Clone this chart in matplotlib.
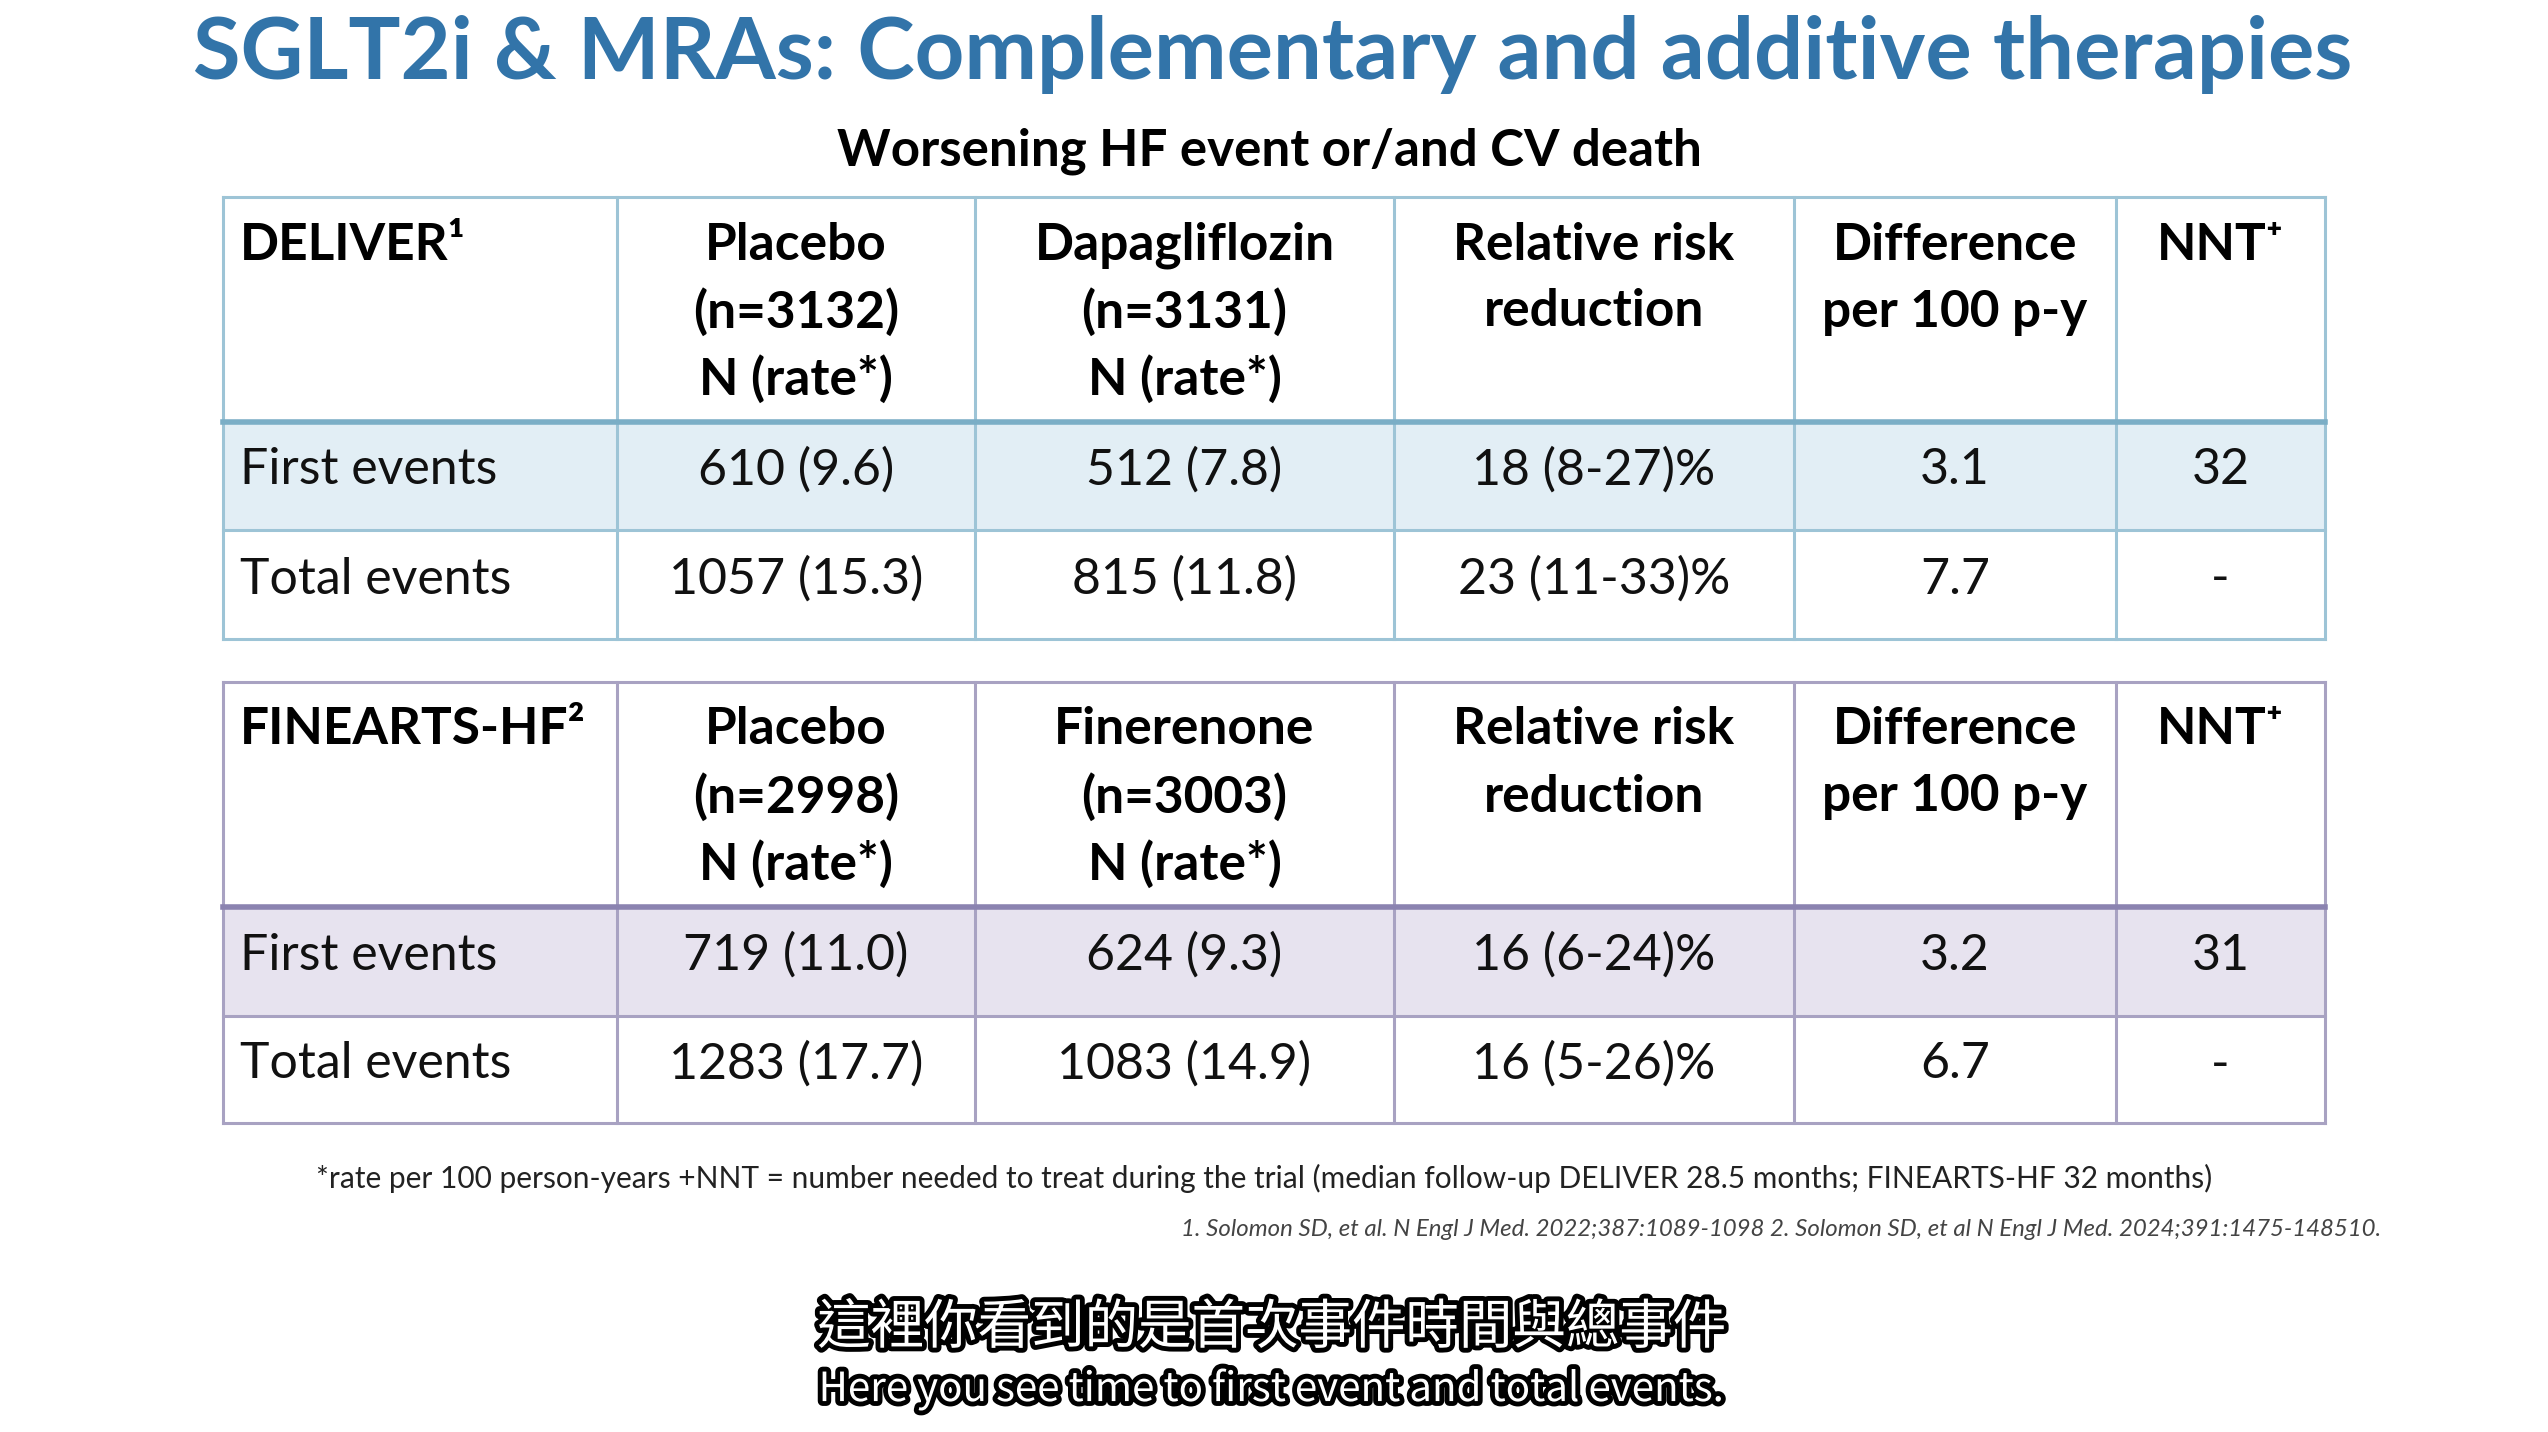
import matplotlib
matplotlib.use("Agg")
from matplotlib import pyplot as plt
from matplotlib import patheffects
from matplotlib.patches import Rectangle

plt.rcParams["font.family"] = ["Lato", "DejaVu Sans"]

title = "SGLT2i & MRAs: Complementary and additive therapies"
subtitle = "Worsening HF event or/and CV death"

trials = ["DELIVER\u00b9", "FINEARTS-HF\u00b2"]
col_heads = [
    ["Placebo\n(n=3132)\nN (rate*)", "Dapagliflozin\n(n=3131)\nN (rate*)",
     "Relative risk\nreduction", "Difference\nper 100 p-y", "NNT\u207a"],
    ["Placebo\n(n=2998)\nN (rate*)", "Finerenone\n(n=3003)\nN (rate*)",
     "Relative risk\nreduction", "Difference\nper 100 p-y", "NNT\u207a"],
]
row_labels = ["First events", "Total events"]

deliver_placebo = ["610 (9.6)", "1057 (15.3)"]
deliver_drug = ["512 (7.8)", "815 (11.8)"]
deliver_rrr = ["18 (8-27)%", "23 (11-33)%"]
deliver_diff = ["3.1", "7.7"]
deliver_nnt = ["32", "-"]

finearts_placebo = ["719 (11.0)", "1283 (17.7)"]
finearts_drug = ["624 (9.3)", "1083 (14.9)"]
finearts_rrr = ["16 (6-24)%", "16 (5-26)%"]
finearts_diff = ["3.2", "6.7"]
finearts_nnt = ["31", "-"]

footnote = ("*rate per 100 person-years +NNT = number needed to treat during the trial "
            "(median follow-up DELIVER 28.5 months; FINEARTS-HF 32 months)")
refs = ("1. Solomon SD, et al. N Engl J Med. 2022;387:1089-1098 "
        "2. Solomon SD, et al N Engl J Med. 2024;391:1475-148510.")
caption_zh = "這裡你看到的是首次事件時間與總事件"
caption_en = "Here you see time to first event and total events."

# layout in pixels
W, H = 2548, 1432
col_x = [223, 617, 975, 1394, 1794, 2116, 2325]
tables = [
    dict(top=197, head=422, mid=530, bottom=639,
         line="#9DC4D6", sep="#7BAEC6", fill="#E2EEF5"),
    dict(top=682, head=907, mid=1016, bottom=1123,
         line="#A8A2C2", sep="#8B83B0", fill="#E7E3EF"),
]
body = [
    [deliver_placebo, deliver_drug, deliver_rrr, deliver_diff, deliver_nnt],
    [finearts_placebo, finearts_drug, finearts_rrr, finearts_diff, finearts_nnt],
]

fig = plt.figure(figsize=(W / 100, H / 100), dpi=100)
ax = fig.add_axes([0, 0, 1, 1])
ax.set_xlim(0, W)
ax.set_ylim(H, 0)
ax.axis("off")

ax.text(1273, 54, title, fontsize=62.5, fontweight="bold", color="#3274A9",
        ha="center", va="center")
ax.text(1269, 151, subtitle, fontsize=36.8, fontweight="bold", color="black",
        ha="center", va="center")

fs_head = 37
fs_body = 36
line_gap = 67
for t, tb in enumerate(tables):
    left, right = col_x[0], col_x[-1]
    # shaded first-events row
    ax.add_patch(Rectangle((left, tb["head"]), right - left, tb["mid"] - tb["head"],
                           facecolor=tb["fill"], edgecolor="none", zorder=1))
    # grid
    for x in col_x:
        ax.plot([x, x], [tb["top"], tb["bottom"]], color=tb["line"], lw=2.2, zorder=2)
    for y in [tb["top"], tb["mid"], tb["bottom"]]:
        ax.plot([left, right], [y, y], color=tb["line"], lw=2.2, zorder=2)
    ax.plot([left, right], [tb["head"], tb["head"]], color=tb["sep"], lw=4, zorder=3)

    y0 = tb["top"] + 48
    ax.text(left + 17, y0, trials[t], fontsize=fs_head, fontweight="bold",
            ha="left", va="center")
    for c, head in enumerate(col_heads[t]):
        xc = (col_x[c + 1] + col_x[c + 2]) / 2
        for i, part in enumerate(head.split("\n")):
            ax.text(xc, y0 + i * line_gap, part, fontsize=fs_head, fontweight="bold",
                    ha="center", va="center")

    row_y = [(tb["head"] + tb["mid"]) / 2 - 6, (tb["mid"] + tb["bottom"]) / 2 - 5]
    for r, label in enumerate(row_labels):
        ax.text(left + 17, row_y[r], label, fontsize=fs_body, ha="left", va="center",
                color="#111111")
        for c, values in enumerate(body[t]):
            xc = (col_x[c + 1] + col_x[c + 2]) / 2
            ax.text(xc, row_y[r], values[r], fontsize=fs_body, ha="center", va="center",
                    color="#111111")

ax.text(1264, 1178, footnote, fontsize=21.5, color="#222222", ha="center", va="center")
ax.text(2381, 1229, refs, fontsize=17.3, style="italic", color="#444444",
        ha="right", va="center")

outline = [patheffects.withStroke(linewidth=7, foreground="black")]
ax.text(1272, 1328, caption_zh, fontsize=38.5, color="white", ha="center", va="center",
        family=["Noto Sans CJK TC", "DejaVu Sans"], path_effects=outline)
ax.text(1272, 1389, caption_en, fontsize=29, color="white", ha="center", va="center",
        family=["Noto Sans CJK TC", "DejaVu Sans"], path_effects=outline)

fig.savefig("out.png", dpi=100, facecolor="white")
